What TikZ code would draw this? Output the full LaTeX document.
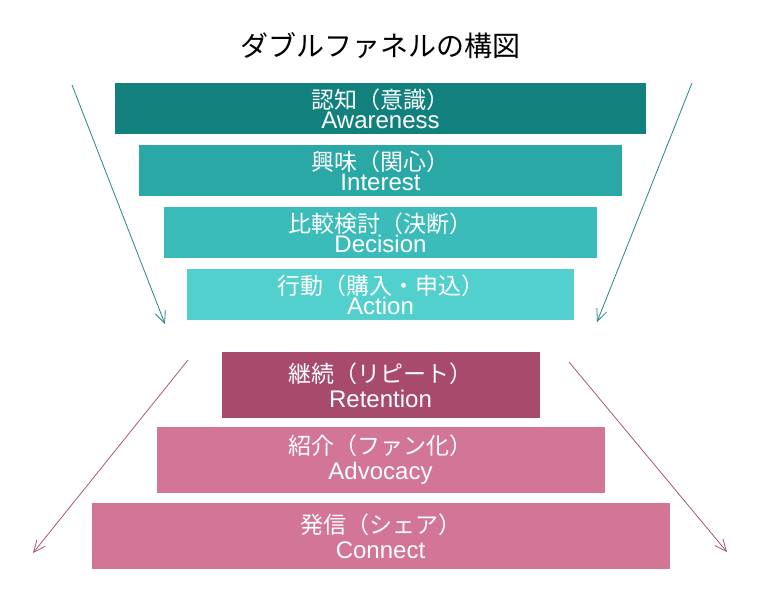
\documentclass[tikz,border=0pt]{standalone}
\usepackage{fontspec}
\setmainfont{Liberation Sans}
\newfontfamily\jpfont{Noto Sans CJK JP}
\usetikzlibrary{arrows.meta}
\definecolor{awarebar}{RGB}{18,128,124}
\definecolor{interestbar}{RGB}{42,168,165}
\definecolor{decisionbar}{RGB}{59,188,186}
\definecolor{actionbar}{RGB}{82,208,206}
\definecolor{retainbar}{RGB}{168,74,110}
\definecolor{sharebar}{RGB}{210,117,151}
\definecolor{tealarrow}{RGB}{40,132,136}
\definecolor{pinkarrow}{RGB}{172,84,122}
\tikzset{
  funnelbox/.style={rectangle,inner sep=0pt,text=white,align=center},
  flowarrow/.style={line width=0.8pt,-{Straight Barb[angle=48:13pt]}}
}
\newcommand{\funnelbar}[8]{%
  \node[funnelbox,fill=#5,minimum width=#3,minimum height=#4,
    font=\fontsize{24}{#6}\selectfont] (#1) at (380.5,#2)
    {{\jpfont\fontsize{23}{#6}\selectfont #7}\\#8};%
}

\begin{document}
\begin{tikzpicture}[x=1pt,y=-1pt]
  \useasboundingbox (0,0) rectangle (760,611);
  \node[font=\jpfont\fontsize{28}{30}\selectfont] (title) at (380,46) {ダブルファネルの構図};
  % upper funnel
  \funnelbar{aware}{108.5}{531}{51}{awarebar}{20}{認知（意識）}{Awareness}
  \funnelbar{interest}{170.5}{483}{51}{interestbar}{20}{興味（関心）}{Interest}
  \funnelbar{decision}{232.5}{433}{51}{decisionbar}{20}{比較検討（決断）}{Decision}
  \funnelbar{action}{294.5}{387}{51}{actionbar}{20}{行動（購入・申込）}{Action}
  % lower funnel
  \funnelbar{retain}{385}{318}{66}{retainbar}{25}{継続（リピート）}{Retention}
  \funnelbar{advocate}{460}{448}{66}{sharebar}{25}{紹介（ファン化）}{Advocacy}
  \funnelbar{connect}{536}{578}{66}{sharebar}{25}{発信（シェア）}{Connect}
  \coordinate (tlStart) at (72,85);
  \coordinate (tlEnd) at (165,324);
  \coordinate (trStart) at (692,83);
  \coordinate (trEnd) at (597,322);
  \coordinate (plStart) at (188,360);
  \coordinate (plEnd) at (33,553);
  \coordinate (prStart) at (569,362);
  \coordinate (prEnd) at (727,552);
  \draw[flowarrow,tealarrow] (tlStart) -- (tlEnd);
  \draw[flowarrow,tealarrow] (trStart) -- (trEnd);
  \draw[flowarrow,pinkarrow] (plStart) -- (plEnd);
  \draw[flowarrow,pinkarrow] (prStart) -- (prEnd);
\end{tikzpicture}
\end{document}
